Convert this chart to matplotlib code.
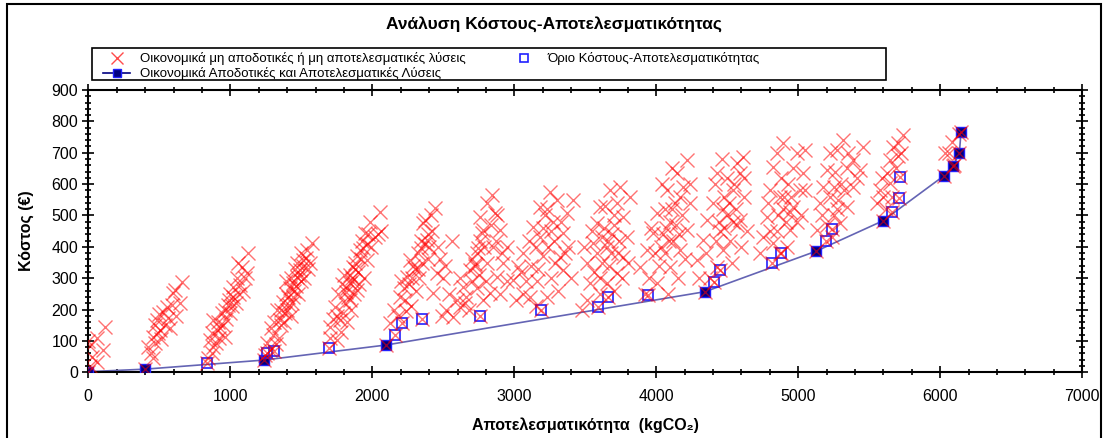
import numpy as np
import matplotlib
matplotlib.use("Agg")
import matplotlib.pyplot as plt
from matplotlib.patches import Rectangle
from matplotlib.lines import Line2D
from matplotlib.ticker import MultipleLocator

plt.rcParams['font.family'] = ['Liberation Sans', 'DejaVu Sans']

# Οικονομικά αποδοτικές λύσεις (μέτωπο)
front_x = [0, 399, 1237, 2097, 4343, 5125, 5596, 6024, 6089, 6134, 6146]
front_y = [2, 10, 39, 87, 257, 386, 483, 626, 659, 698, 767]

# Όριο κόστους-αποτελεσματικότητας
limit_x = [834, 1256, 1308, 1693, 2162, 2211, 2352, 2756, 3186, 3592, 3658, 3939,
           4404, 4449, 4815, 4878, 5197, 5239, 5662, 5711, 5718]
limit_y = [31, 60, 69, 78, 119, 157, 171, 179, 199, 209, 240, 246,
           289, 326, 349, 381, 419, 458, 512, 555, 624]

# μη αποδοτικές λύσεις, ανά ομάδα
c1 = [(10, 20), (25, 50), (59, 34), (106, 71), (15, 85), (59, 109), (118, 145), (0, 100)]
c2 = [(423, 82), (440, 60), (458, 45), (458, 113), (470, 95), (482, 167), (490, 125), (505, 135),
      (515, 105), (528, 193), (540, 151), (552, 208), (563, 173), (575, 140), (587, 215), (599, 252),
      (610, 262), (620, 180), (646, 220), (658, 289), (500, 185), (470, 150)]
c3 = [(840, 45), (869, 60), (857, 103), (880, 80), (904, 135), (881, 167), (920, 110), (939, 188),
      (963, 113), (950, 150), (986, 215), (970, 170), (1000, 190), (1021, 241), (1021, 273), (1040, 220),
      (1068, 278), (1056, 347), (1080, 337), (1115, 316), (1127, 379), (1000, 250), (1045, 300),
      (900, 95), (930, 140), (990, 230), (1090, 260), (960, 200), (870, 125), (915, 160), (1010, 210),
      (1060, 250), (1100, 300)]
c4 = [(1245, 55), (1256, 92), (1280, 70), (1303, 119), (1290, 140), (1327, 199), (1350, 167), (1340, 110),
      (1385, 188), (1370, 225), (1409, 241), (1432, 220), (1420, 270), (1444, 284), (1467, 305), (1455, 330),
      (1491, 326), (1480, 250), (1514, 358), (1500, 380), (1538, 390), (1561, 347), (1573, 411), (1520, 300),
      (1400, 200), (1360, 150), (1310, 160), (1450, 260), (1470, 350), (1545, 330), (1390, 290), (1425, 180),
      (1495, 290), (1320, 90), (1375, 160), (1410, 215), (1440, 240), (1465, 275), (1485, 310), (1510, 340),
      (1530, 365), (1355, 200), (1395, 250), (1430, 300)]
c5 = [(1700, 110), (1749, 103), (1702, 145), (1737, 209), (1772, 167), (1760, 250), (1808, 220), (1790, 280),
      (1820, 160), (1843, 284), (1830, 240), (1866, 337), (1855, 300), (1890, 262), (1880, 350), (1913, 390),
      (1900, 320), (1940, 300), (1949, 443), (1960, 358), (1984, 480), (1990, 400), (2019, 432), (2054, 512),
      (2040, 440), (1930, 420), (1850, 200), (1800, 310), (1870, 250), (1920, 360), (1965, 410), (1815, 255),
      (1720, 170), (2060, 450), (1780, 130), (1825, 270), (1840, 230), (1860, 290), (1845, 310), (1875, 330),
      (1895, 370), (1935, 395), (1970, 440), (1795, 190), (1750, 180), (1905, 280)]
c6 = [(2125, 156), (2150, 200), (2195, 241), (2180, 180), (2220, 270), (2242, 305), (2230, 230), (2265, 358),
      (2280, 300), (2300, 330), (2320, 380), (2310, 260), (2340, 420), (2360, 475), (2350, 350), (2371, 485),
      (2383, 422), (2400, 400), (2420, 450), (2442, 523), (2453, 316), (2430, 252), (2480, 360), (2500, 300),
      (2520, 200), (2540, 250), (2490, 180), (2270, 210), (2330, 300), (2390, 360), (2410, 500), (2200, 290),
      (2560, 420), (2290, 340), (2320, 330), (2345, 395), (2370, 410), (2395, 440), (2255, 280), (2235, 195),
      (2460, 400), (2510, 340)]
c7 = [(2571, 177), (2594, 230), (2618, 209), (2641, 273), (2660, 240), (2688, 326), (2700, 290), (2735, 379),
      (2720, 340), (2750, 310), (2770, 443), (2758, 496), (2790, 400), (2806, 539), (2841, 565), (2864, 507),
      (2899, 454), (2946, 400), (2923, 347), (2876, 305), (2829, 252), (2782, 230), (2850, 400), (2810, 350),
      (2740, 270), (2900, 250), (2680, 200), (2760, 420), (2880, 500), (2950, 290), (2620, 300), (2700, 360),
      (2725, 345), (2745, 395), (2780, 455), (2835, 470), (2870, 420), (2910, 380), (2800, 290), (2650, 220)]
c8 = [(2993, 294), (3028, 337), (3010, 230), (3060, 380), (3080, 290), (3111, 241), (3134, 464), (3150, 400),
      (3181, 528), (3170, 330), (3200, 460), (3228, 241), (3251, 576), (3240, 400), (3270, 480), (3298, 549),
      (3290, 350), (3322, 369), (3345, 443), (3345, 326), (3369, 507), (3416, 549), (3380, 400), (3150, 210),
      (3100, 420), (3260, 300), (3310, 260), (3060, 250), (3200, 370), (3400, 300), (3330, 480), (3230, 520),
      (3120, 340), (3180, 430), (3215, 500), (3255, 450), (3280, 420), (3050, 320), (3360, 380), (3160, 290)]
c9 = [(3480, 200), (3510, 230), (3533, 284), (3510, 347), (3490, 400), (3556, 411), (3580, 475), (3603, 528),
      (3674, 581), (3744, 592), (3815, 560), (3768, 496), (3791, 432), (3768, 369), (3721, 316), (3650, 284),
      (3620, 350), (3660, 420), (3700, 470), (3640, 530), (3720, 540), (3600, 250), (3680, 380), (3740, 420),
      (3560, 320), (3800, 350), (3700, 260), (3630, 460), (3580, 380), (3760, 300), (3650, 400), (3690, 440),
      (3705, 500), (3620, 430), (3670, 340), (3730, 380), (3545, 450), (3600, 300)]
c10 = [(3885, 337), (3933, 390), (3979, 443), (4003, 507), (4073, 581), (4144, 634), (4214, 677), (4190, 592),
       (4237, 539), (4214, 454), (4167, 390), (4097, 337), (4003, 284), (3950, 300), (3920, 250), (4050, 440),
       (4100, 480), (4130, 540), (4060, 380), (4150, 300), (4200, 360), (4040, 600), (3990, 380), (4120, 420),
       (4080, 250), (4180, 500), (4020, 340), (3960, 460), (4240, 600), (4110, 650), (4070, 460), (4090, 420),
       (4140, 470), (4160, 440), (4030, 400), (4110, 520), (4170, 560), (4060, 520)]
c11 = [(4284, 358), (4331, 422), (4355, 485), (4401, 539), (4425, 634), (4566, 666), (4613, 687), (4542, 581),
       (4589, 634), (4589, 485), (4472, 390), (4425, 337), (4380, 300), (4450, 450), (4500, 500), (4520, 420),
       (4480, 560), (4560, 520), (4620, 560), (4410, 600), (4500, 620), (4640, 450), (4600, 400), (4350, 380),
       (4530, 350), (4460, 680), (4440, 480), (4570, 470), (4300, 300), (4620, 620), (4480, 460), (4510, 540),
       (4540, 480), (4470, 520), (4420, 420), (4550, 600)]
c12 = [(4730, 379), (4754, 432), (4777, 496), (4801, 581), (4824, 655), (4848, 698), (4894, 730), (4989, 698),
       (5047, 709), (5035, 634), (5012, 581), (4965, 528), (4941, 454), (4824, 411), (4860, 500), (4900, 560),
       (4880, 620), (4930, 600), (4960, 650), (4850, 450), (4920, 400), (4790, 540), (4990, 480), (5020, 500),
       (4870, 380), (4950, 560), (4800, 450), (5050, 580), (4890, 520), (4910, 480), (4870, 560), (4940, 510)]
c13 = [(5130, 454), (5153, 539), (5176, 592), (5200, 645), (5223, 698), (5270, 709), (5317, 741), (5458, 719),
       (5387, 677), (5434, 645), (5387, 592), (5341, 528), (5294, 475), (5250, 500), (5220, 560), (5300, 600),
       (5260, 640), (5340, 650), (5170, 500), (5350, 700), (5280, 550), (5240, 430), (5410, 620), (5200, 470),
       (5320, 580), (5250, 590), (5275, 520)]
c14 = [(5552, 539), (5575, 581), (5622, 634), (5646, 677), (5669, 719), (5739, 757), (5700, 730), (5646, 603),
       (5600, 560), (5690, 650), (5620, 520), (5660, 560), (5700, 690), (5590, 620), (5720, 700)]
c15 = [(6080, 735), (6033, 698), (6100, 660), (6060, 700), (6130, 760)]

clusters = [c1, c2, c3, c4, c5, c6, c7, c8, c9, c10, c11, c12, c13, c14, c15]
pts = [p for c in clusters for p in c]
ix = [p[0] for p in pts] + limit_x + front_x
iy = [p[1] for p in pts] + limit_y + front_y

fig = plt.figure(figsize=(11.08, 4.38), dpi=100)
ax = fig.add_axes([0.0797, 0.15, 0.8971, 0.6445])

ax.plot(front_x, front_y, color="#6464b4", lw=1.2, zorder=2)
ax.plot(front_x, front_y, ls="none", marker="s", ms=7, mfc="#000080", mec="#2020ff", mew=1, zorder=3)
ax.plot(limit_x, limit_y, ls="none", marker="s", ms=7, mfc="none", mec="#2020ff", mew=1.2, zorder=3)
ax.plot(ix, iy, ls="none", marker="x", ms=10, color="red", mew=1, alpha=0.55, zorder=4)

ax.set_xlim(0, 7000)
ax.set_ylim(0, 900)
ax.xaxis.set_major_locator(MultipleLocator(1000))
ax.xaxis.set_minor_locator(MultipleLocator(200))
ax.yaxis.set_major_locator(MultipleLocator(100))
ax.yaxis.set_minor_locator(MultipleLocator(20))
ax.tick_params(which="both", top=True, right=True, labelsize=11.5, width=1.2, colors="black")
ax.tick_params(which="major", length=8, direction="inout")
ax.tick_params(which="minor", length=5, direction="inout")
ax.tick_params(axis="x", pad=8)
for s in ax.spines.values():
    s.set_linewidth(1.5)

ax.set_xlabel("Αποτελεσματικότητα  (kgCO₂)", fontsize=11.5, fontweight="bold", labelpad=10)
ax.set_ylabel("Κόστος (€)", fontsize=11.5, fontweight="bold", labelpad=12)
fig.text(0.5, 0.945, "Ανάλυση Κόστους-Αποτελεσματικότητας", ha="center", va="center",
         fontsize=12.5, fontweight="bold")

h1 = Line2D([], [], ls="none", marker="x", ms=9, color="red", alpha=0.7)
h2 = Line2D([], [], color="#000080", lw=1.2, marker="s", ms=6, mfc="#000080", mec="#2020ff")
h3 = Line2D([], [], ls="none", marker="s", ms=6, mfc="none", mec="#2020ff", mew=1.2)
fig.legend([h1, h2, h3],
           ["Οικονομικά μη αποδοτικές ή μη αποτελεσματικές λύσεις",
            "Οικονομικά Αποδοτικές και Αποτελεσματικές Λύσεις",
            "Όριο Κόστους-Αποτελεσματικότητας"],
           ncol=2, loc="upper left", bbox_to_anchor=(0.085, 0.902), frameon=False,
           fontsize=9.5, handlelength=2, handletextpad=0.8, columnspacing=3.4,
           labelspacing=0.15, borderpad=0.2)
fig.patches.append(Rectangle((0.083, 0.817), 0.7166, 0.073, transform=fig.transFigure,
                             fill=False, ec="black", lw=1.2))
fig.patches.append(Rectangle((0.0065, -0.05), 0.987, 1.04, transform=fig.transFigure,
                             fill=False, ec="black", lw=1.5))

fig.savefig("out.png", dpi=100)
